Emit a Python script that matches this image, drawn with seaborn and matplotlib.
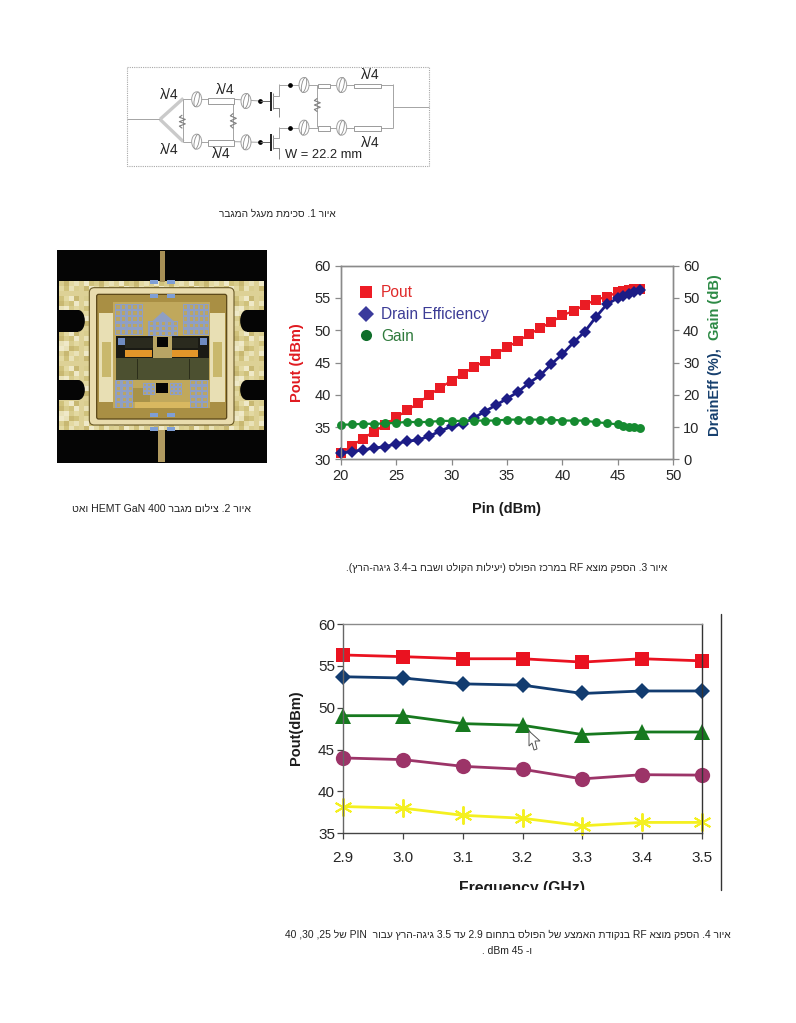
import re
import matplotlib
matplotlib.use("Agg")
import matplotlib.pyplot as plt
from matplotlib.lines import Line2D
from matplotlib.patches import Rectangle, FancyBboxPatch, Ellipse, Polygon
from matplotlib.transforms import Bbox
import seaborn as sns

# figure 3 : Pin sweep
pin = [20, 21, 22, 23, 24, 25, 26, 27, 28, 29, 30, 31, 32, 33, 34, 35, 36, 37, 38, 39,
       40, 41, 42, 43, 44, 45, 45.5, 46, 46.5, 47]
pout = [30.9, 32.1, 33.2, 34.3, 35.3, 36.5, 37.6, 38.7, 40.0, 41.1, 42.2, 43.2, 44.3, 45.2, 46.3,
        47.4, 48.3, 49.4, 50.3, 51.3, 52.3, 53.0, 53.9, 54.7, 55.2, 55.9, 56.1, 56.3, 56.4, 56.4]
drain_eff = [2.0, 2.4, 2.9, 3.5, 3.9, 4.8, 5.6, 6.0, 7.2, 8.8, 10.2, 11.0, 12.8, 14.8, 16.8,
             18.8, 20.9, 23.7, 26.0, 29.5, 32.6, 36.2, 39.5, 44.0, 48.0, 50.0, 50.6, 51.2, 52.0, 52.5]
gain = [10.7, 10.8, 11.0, 11.0, 11.1, 11.3, 11.6, 11.5, 11.6, 11.9, 11.9, 11.9, 12.0, 12.0, 12.0,
        12.3, 12.3, 12.3, 12.3, 12.3, 12.0, 12.0, 12.0, 11.5, 11.2, 10.8, 10.3, 10.1, 10.0, 9.6]
pin_ticks = [20, 25, 30, 35, 40, 45, 50]
pout_ticks = [30, 35, 40, 45, 50, 55, 60]
right_ticks = [0, 10, 20, 30, 40, 50, 60]

# figure 4 : frequency sweep
freq = [2.9, 3.0, 3.1, 3.2, 3.3, 3.4, 3.5]
freq_labels = ["2.9", "3.0", "3.1", "3.2", "3.3", "3.4", "3.5"]
pout_45 = [56.3, 56.1, 55.85, 55.85, 55.45, 55.85, 55.6]
pout_40 = [53.7, 53.55, 52.85, 52.7, 51.7, 52.0, 52.0]
pout_35 = [49.05, 49.05, 48.1, 47.9, 46.8, 47.1, 47.1]
pout_30 = [44.0, 43.8, 43.0, 42.65, 41.5, 42.0, 41.95]
pout_25 = [38.2, 38.0, 37.15, 36.8, 35.9, 36.3, 36.3]
freq_y_ticks = [35, 40, 45, 50, 55, 60]

RED = "#ea1c24"
NAVY = "#1c1c86"
GREEN = "#158a30"
GREY = "#8a8a8a"
TXT = "#262626"

sns.set_style("ticks")
plt.rcParams["font.family"] = ["Liberation Sans", "DejaVu Sans"]

W, H = 796, 1023
fig = plt.figure(figsize=(W / 100, H / 100), dpi=100)


def axes_px(x0, y0, x1, y1):
    return fig.add_axes([x0 / W, 1 - y1 / H, (x1 - x0) / W, (y1 - y0) / H])


def style(ax, left=GREY):
    for s in ax.spines.values():
        s.set_color(GREY)
        s.set_linewidth(1.0)
    ax.spines["left"].set_color(left)
    ax.set_facecolor("none")


# ---- figure 3
ax1 = axes_px(340.7, 265.7, 673.3, 459.3)
sns.lineplot(x=pin, y=pout, ax=ax1, color=RED, marker="s", markersize=6.8, markeredgewidth=0,
             linewidth=1.6, errorbar=None, legend=False, clip_on=False)
ax1.set_xlim(20, 50)
ax1.set_ylim(30, 60)
ax1.set_xticks(pin_ticks)
ax1.set_yticks(pout_ticks)
ax1.tick_params(labelsize=10.5, colors=TXT, length=4, width=0.9, color=GREY, pad=3)
ax1.set_xlabel("")
ax1.set_ylabel("")
style(ax1)

ax1r = ax1.twinx()
sns.lineplot(x=pin, y=drain_eff, ax=ax1r, color=NAVY, marker="D", markersize=5.8, markeredgewidth=0,
             linewidth=2.0, errorbar=None, legend=False, clip_on=False)
sns.lineplot(x=pin, y=gain, ax=ax1r, color=GREEN, marker="o", markersize=6.4, markeredgewidth=0,
             linewidth=1.6, errorbar=None, legend=False, clip_on=False)
ax1r.set_ylim(0, 60)
ax1r.set_yticks(right_ticks)
ax1r.tick_params(labelsize=10.5, colors=TXT, length=4, width=0.9, color=GREY, pad=3)
ax1r.set_ylabel("")
style(ax1r)

handles = [
    Line2D([], [], ls="", marker="s", ms=8.5, color="#ee1c25", mew=0),
    Line2D([], [], ls="", marker="D", ms=8, color="#3a3a9c", mew=0),
    Line2D([], [], ls="", marker="o", ms=8, color="#0f6e2a", mew=0),
]
ax1.legend(handles, ["Pout", "Drain Efficiency", "Gain"], loc="upper left",
           bbox_to_anchor=(0.054, 0.898), frameon=False, fontsize=11.2, handlelength=1.0,
           handletextpad=0.45, labelspacing=0.42, borderaxespad=0, borderpad=0,
           labelcolor=["#e02a2a", "#3c3c96", "#2f7a3c"])

fig.text(506.7 / W, 1 - 509.3 / H, "Pin (dBm)", ha="center", va="center", fontsize=10.5,
         fontweight="bold", color="#1c1c1c")
fig.text(297 / W, 1 - 363 / H, "Pout (dBm)", ha="center", va="center", rotation=90, fontsize=10.5,
         fontweight="bold", color="#e01a20")
fig.text(715 / W, 1 - 392 / H, "DrainEff (%),", ha="center", va="center", rotation=90, fontsize=10.5,
         fontweight="bold", color="#17406e")
fig.text(715 / W, 1 - 307.5 / H, "Gain (dB)", ha="center", va="center", rotation=90, fontsize=10.5,
         fontweight="bold", color="#2d8a45")

# ---- figure 4
ax2 = axes_px(343.3, 624, 701.7, 833.3)
series = [
    (pout_25, "#f4f020", (6, 2, 0), 13),
    (pout_30, "#9c3468", "o", 11),
    (pout_35, "#17791f", "^", 11.5),
    (pout_40, "#123c70", "D", 8),
    (pout_45, "#ea1220", "s", 10),
]
for vals, col, mk, ms in series:
    sns.lineplot(x=freq, y=vals, ax=ax2, color=col, marker=mk, markersize=ms, markeredgecolor=col,
                 markeredgewidth=1.4 if mk == (6, 2, 0) else 0, linewidth=2.0, errorbar=None,
                 legend=False, clip_on=False)
ax2.set_xlim(2.9, 3.5)
ax2.set_ylim(35, 60)
ax2.set_xticks(freq)
ax2.set_xticklabels(freq_labels)
ax2.set_yticks(freq_y_ticks)
ax2.tick_params(labelsize=11, colors=TXT, length=4, width=0.9, color="#444444", pad=9)
ax2.tick_params(axis="y", pad=2)
ax2.set_xlabel("")
ax2.set_ylabel("")
style(ax2, left="#666666")
ax2.spines["right"].set_color("#333333")
ax2.spines["bottom"].set_color("#444444")

fig.text(296 / W, 1 - 728 / H, "Pout(dBm)", ha="center", va="center", rotation=90, fontsize=10.5,
         fontweight="bold", color="#1c1c1c")
t = fig.text(521.7 / W, 1 - 888 / H, "Frequency (GHz)", ha="center", va="center", fontsize=11.3,
             fontweight="bold", color="#1c1c1c")
# the x title is cut off at the bottom of the screenshot
t.set_clip_box(Bbox([[0, H - 890], [W, H]]))
t.set_clip_on(True)

# ---- overlay in page pixels : schematic, photo, captions
pg = fig.add_axes([0, 0, 1, 1], zorder=20)
pg.set_xlim(0, W)
pg.set_ylim(H, 0)
pg.axis("off")
pg.patch.set_alpha(0)

# mouse pointer left on the screenshot
cx, cy = 529, 731
pg.add_patch(Polygon([(cx, cy), (cx + 11, cy + 10), (cx + 6, cy + 10), (cx + 8, cy + 18),
                      (cx + 5, cy + 19), (cx + 3, cy + 12), (cx, cy + 15)],
                     closed=True, fc="white", ec="#555555", lw=0.7))
pg.plot([720.5, 720.5], [614, 890], color="#333333", lw=1)


# schematic, coordinates as crop pixels
def sx(x):
    return 120 + x / 3


def sy(y):
    return 60 + y / 3


def wire(xs, ys, c="#a4a4a4", lw=0.7):
    pg.plot([sx(x) for x in xs], [sy(y) for y in ys], color=c, lw=lw, solid_capstyle="butt")


def box(x0, y0, x1, y1):
    pg.add_patch(Rectangle((sx(x0), sy(y0)), (x1 - x0) / 3, (y1 - y0) / 3, fc="white", ec="#9a9a9a", lw=0.7, zorder=3))


def coil(x, y):
    pg.add_patch(Ellipse((sx(x), sy(y)), 10, 15, fc="white", ec="#a0a0a0", lw=0.7, zorder=3))
    pg.add_patch(Ellipse((sx(x), sy(y)), 4.5, 15, angle=12, fc="white", ec="#8c8c8c", lw=0.6, zorder=3))


def zigzag(x, y0, y1):
    ys = [y0 + (y1 - y0) * i / 6 for i in range(7)]
    xs = [x, x - 9, x + 9, x - 9, x + 9, x - 9, x]
    wire(xs, ys, "#808080", 0.8)


pg.add_patch(Rectangle((127.3, 67.3), 302, 98.7, fc="none", ec="#a8a8a8", lw=0.8, ls=(0, (1, 1))))
wire([22, 120], [178, 178])
wire([120, 190], [178, 115], "#cacaca", 2.4)
wire([120, 190], [178, 245], "#cacaca", 2.4)
wire([190, 190], [118, 245])
zigzag(187, 165, 205)
wire([340, 340], [118, 245])
zigzag(340, 160, 205)
for yc, yb in [(118, 123), (245, 247)]:
    wire([190, 265], [yc, yc])
    coil(230, yc)
    box(265, yc - 4, 342, yc + 14)
    wire([342, 420], [yc, yb])
    coil(378, yb)
    pg.plot(sx(420), sy(yb), "o", color="black", ms=2.4)
    wire([420, 452], [yb, yb], "#666666")
for yt, yb, sb in [(95, 152, 172), (222, 272, 298)]:
    wire([453, 453], [yt, yb], "#222222", 1.4)
    wire([460, 460], [yt + 4, yb - 4], "#888888", 0.7)
    wire([460, 478, 478], [yb - 8, yb - 8, sb], "#888888")
wire([460, 478, 478], [108, 108, 73])
wire([460, 478, 478], [235, 235, 200])
for yc in [75, 203]:
    wire([478, 818], [yc, yc])
    pg.plot(sx(510), sy(yc), "o", color="black", ms=2.4)
    coil(552, yc)
    box(595, yc - 4, 630, yc + 10)
    coil(665, yc)
    box(703, yc - 4, 782, yc + 10)
wire([592, 592], [75, 200])
zigzag(592, 115, 155)
wire([818, 818], [72, 205])
wire([818, 928], [140, 140])
for x, y in [(148, 105), (315, 90), (148, 270), (303, 283), (750, 45), (750, 248)]:
    pg.text(sx(x), sy(y), "λ/4", ha="center", va="center", fontsize=10, color="#222222")
pg.text(sx(495), sy(285), "W = 22.2 mm", ha="left", va="center", fontsize=9.3, color="#222222")


# chip photo, coordinates as crop pixels
def cxp(x):
    return 50 + x / 3


def cyp(y):
    return 245 + y / 3


def rect(x0, y0, x1, y1, c, z=5):
    pg.add_patch(Rectangle((cxp(x0), cyp(y0)), (x1 - x0) / 3, (y1 - y0) / 3, fc=c, ec="none", zorder=z))


def rrect(x0, y0, x1, y1, fc, ec="none", lw=0, z=5, r=5):
    pg.add_patch(FancyBboxPatch((cxp(x0) + r, cyp(y0) + r), (x1 - x0) / 3 - 2 * r, (y1 - y0) / 3 - 2 * r,
                                boxstyle=f"round,pad={r}", fc=fc, ec=ec, lw=lw, zorder=z))


def grid(x0, y0, x1, y1, n, m, z=7):
    rect(x0, y0, x1, y1, "#8f9fc4", z)
    dx = (x1 - x0) / n
    dy = (y1 - y0) / m
    for i in range(n):
        for j in range(m):
            rect(x0 + dx * (i + .2), y0 + dy * (j + .2), x0 + dx * (i + .8), y0 + dy * (j + .8), "#b9a566", z + 1)


rect(20, 14, 652, 655, "#050505", 4)
# mottled gold plating of the package
mottle = ["#d9cd8e", "#e9e2b8", "#d0c27c", "#e3d9a2", "#efe9c8", "#c8b872", "#ddd196"]
step = 15
for i in range(41):
    for j in range(30):
        rect(28 + i * step, 108 + j * step, 28 + (i + 1) * step, 108 + (j + 1) * step,
             mottle[(i * 5 + j * 3 + i * j) % 7], 5)
for x0, x1 in [(20, 85), (590, 652)]:
    for y0, y1 in [(195, 260), (405, 465)]:
        rect(x0, y0, x1, y1, "#050505", 6)
for xc in [85, 590]:
    for y0, y1 in [(195, 260), (405, 465)]:
        pg.add_patch(Ellipse((cxp(xc), cyp((y0 + y1) / 2)), 13, (y1 - y0) / 3, fc="#050505", ec="none", zorder=6))
rect(20, 555, 652, 655, "#050505", 6)
rect(330, 18, 345, 112, "#a68f55", 7)
rect(325, 555, 345, 650, "#b09a60", 7)
rrect(118, 128, 552, 540, "#e9dcae", "#6a5a28", 0.8, 8)
rrect(140, 148, 530, 522, "#a98f44", "#5a4618", 0.9, 9, r=2)
for x0, x1 in [(148, 190), (480, 524)]:
    rect(x0, 205, x1, 470, "#e8dfb4", 10)
    rect(x0 + 8, 290, x1 - 8, 395, "#c9b86c", 10)
rect(190, 170, 480, 490, "#c0a85c", 10)
grid(196, 176, 280, 270, 5, 5, 11)
grid(400, 176, 478, 270, 5, 5, 11)
grid(196, 405, 250, 488, 3, 5, 11)
grid(420, 405, 475, 488, 3, 5, 11)
grid(295, 228, 385, 272, 5, 3, 11)
pg.add_patch(Polygon([(cxp(295), cyp(240)), (cxp(338), cyp(200)), (cxp(385), cyp(240))],
                     closed=True, fc="#8f9fc4", ec="none", zorder=11))
rect(250, 430, 300, 470, "#a89248", 11)
grid(280, 415, 315, 450, 3, 3, 12)
grid(360, 415, 395, 450, 3, 3, 12)
rect(255, 470, 420, 488, "#d8b860", 12)
rect(198, 272, 478, 340, "#1a1a14", 11)
rect(205, 280, 225, 300, "#6f8bc0", 12)
rect(450, 280, 470, 300, "#6f8bc0", 12)
rect(225, 278, 310, 308, "#2a2a1e", 13)
rect(365, 278, 445, 308, "#2a2a1e", 13)
rect(310, 272, 365, 340, "#b8a565", 12)
rect(322, 276, 354, 305, "#050505", 13)
rect(225, 315, 305, 335, "#e2962a", 13)
rect(365, 315, 445, 335, "#e2962a", 13)
rect(198, 340, 478, 405, "#4c5030", 12)
for x in [262, 305, 365, 418]:
    rect(x, 342, x + 2, 403, "#2c2e1a", 13)
rect(318, 415, 355, 445, "#050505", 14)
for x, y in [(300, 104), (350, 104), (300, 148), (350, 148), (300, 503), (350, 503), (300, 545), (350, 545)]:
    rect(x, y, x + 25, y + 12, "#7f9fd6", 14)


# hebrew captions : matplotlib lays text left to right, so turn the line around
def rtl(s):
    s = s[::-1].translate(str.maketrans("()", ")("))
    return re.sub(r"[A-Za-z0-9]+(\.[0-9]+)?", lambda m: m.group(0)[::-1], s)


captions = [
    (277.5, 213.5, 7.3, "איור 1. סכימת מעגל המגבר"),
    (161.5, 509, 7.55, "איור 2. צילום מגבר 400 GaN HEMT ואט"),
    (507, 567.5, 7.37, "איור 3. הספק מוצא RF במרכז הפולס (יעילות הקולט ושבח ב-3.4 גיגה-הרץ)."),
    (507.5, 934.5, 7.37, "איור 4. הספק מוצא RF בנקודת האמצע של הפולס בתחום 2.9 עד 3.5 גיגה-הרץ עבור  PIN של 25, 30, 40"),
    (507, 951, 7.37, "ו- 45 dBm ."),
]
for x, y, fs, s in captions:
    pg.text(x, y, rtl(s), ha="center", va="center", fontsize=fs, color="#222222")

fig.savefig("out.png", dpi=100, facecolor="white")
